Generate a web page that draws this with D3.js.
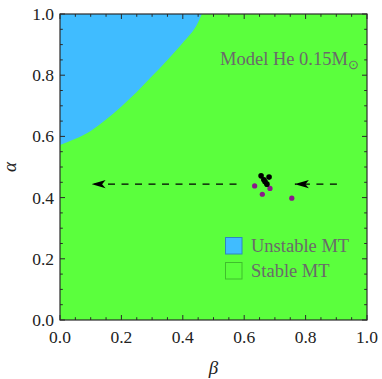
<!DOCTYPE html>
<html>
<head>
<meta charset="utf-8">
<script src="https://cdn.jsdelivr.net/npm/d3@7"></script>
<style>
  body { margin: 0; background: #fff; }
</style>
</head>
<body>
<div id="vis"></div>
<script>
var margin = { top: 14, right: 15, bottom: 59, left: 60 },
    width = 382 - margin.left - margin.right,
    height = 379 - margin.top - margin.bottom;

const serif = "'Liberation Serif', 'Times New Roman', Times, serif";

// boundary between unstable (upper left) and stable mass transfer
const boundaryBeta  = [0, 0.05, 0.1, 0.15, 0.2, 0.25, 0.3, 0.35, 0.4, 0.45, 0.462];
const boundaryAlpha = [0.572, 0.592, 0.618, 0.655, 0.698, 0.745, 0.797, 0.85, 0.906, 0.973, 1.0];

// simulated systems
const blackBeta  = [0.655, 0.664, 0.674, 0.681, 0.668];
const blackAlpha = [0.471, 0.458, 0.444, 0.467, 0.452];
const purpleBeta  = [0.634, 0.684, 0.659, 0.755];
const purpleAlpha = [0.438, 0.430, 0.411, 0.398];

// dashed arrows [start beta, end beta, alpha]
const arrowFrom  = [0.575, 0.902];
const arrowTo    = [0.103, 0.765];
const arrowAlpha = [0.444, 0.444];

const majorTicks = [0, 0.2, 0.4, 0.6, 0.8, 1.0];
const legendLabels = ["Unstable MT", "Stable MT"];

const blue = "#40bcff", green = "#5bff3d";

const x = d3.scaleLinear().domain([0, 1]).range([0, width]);
const y = d3.scaleLinear().domain([0, 1]).range([height, 0]);

const svg = d3.select("#vis")
    .append("svg")
    .attr("width", width + margin.left + margin.right)
    .attr("height", height + margin.top + margin.bottom)
    .attr("font-family", serif)
    .append("g")
    .attr("transform", `translate(${margin.left}, ${margin.top})`);

// stable background
svg.append("rect")
    .attr("width", width)
    .attr("height", height)
    .attr("fill", green);

// unstable region
const boundary = boundaryBeta.map((b, i) => [b, boundaryAlpha[i]]);
svg.append("path")
    .datum(boundary)
    .attr("fill", blue)
    .attr("d", d3.area()
        .x(d => x(d[0]))
        .y0(y(1))
        .y1(d => y(d[1]))
        .curve(d3.curveMonotoneX));

// arrowhead marker
svg.append("defs").append("marker")
    .attr("id", "head")
    .attr("markerUnits", "userSpaceOnUse")
    .attr("viewBox", "0 -5 14 10")
    .attr("refX", 14).attr("refY", 0)
    .attr("markerWidth", 14).attr("markerHeight", 10)
    .attr("orient", "auto")
    .append("path")
    .attr("d", "M0,-4.2L14,0L0,4.2L3.5,0Z")
    .attr("fill", "#000");

arrowFrom.forEach((b, i) => {
    svg.append("line")
        .attr("x1", x(b)).attr("y1", y(arrowAlpha[i]))
        .attr("x2", x(arrowTo[i])).attr("y2", y(arrowAlpha[i]))
        .attr("stroke", "#000")
        .attr("stroke-width", 1.3)
        .attr("stroke-dasharray", "7,6.5")
        .attr("marker-end", "url(#head)");
});

// points
svg.selectAll("circle.purple")
    .data(purpleBeta)
    .join("circle")
    .attr("class", "purple")
    .attr("cx", d => x(d))
    .attr("cy", (d, i) => y(purpleAlpha[i]))
    .attr("r", 2.6)
    .attr("fill", "#8a1a8a");
svg.selectAll("circle.black")
    .data(blackBeta)
    .join("circle")
    .attr("class", "black")
    .attr("cx", d => x(d))
    .attr("cy", (d, i) => y(blackAlpha[i]))
    .attr("r", 2.8)
    .attr("fill", "#000");

// frame and ticks
const minorTicks = d3.range(0, 1.0001, 0.05);
const frame = svg.append("g");
frame.append("rect")
    .attr("width", width).attr("height", height)
    .attr("fill", "none")
    .attr("stroke", "#2a2a2a")
    .attr("stroke-width", 1.2);
minorTicks.forEach(t => {
    const major = majorTicks.some(m => Math.abs(m - t) < 1e-6);
    const len = major ? 5 : 2.8;
    const segs = [
        [x(t), height, x(t), height - len],
        [x(t), 0, x(t), len],
        [0, y(t), len, y(t)],
        [width, y(t), width - len, y(t)]
    ];
    segs.forEach(s => frame.append("line")
        .attr("x1", s[0]).attr("y1", s[1]).attr("x2", s[2]).attr("y2", s[3])
        .attr("stroke", "#2a2a2a").attr("stroke-width", 1));
});

// tick labels
svg.selectAll("text.xt")
    .data(majorTicks)
    .join("text")
    .attr("class", "xt")
    .attr("x", d => x(d))
    .attr("y", height + 23)
    .attr("text-anchor", "middle")
    .attr("font-family", serif)
    .style("font-size", "17.5px")
    .attr("fill", "#222")
    .text(d => d.toFixed(1));
svg.selectAll("text.yt")
    .data(majorTicks)
    .join("text")
    .attr("class", "yt")
    .attr("x", -6)
    .attr("y", d => y(d) + 6)
    .attr("text-anchor", "end")
    .attr("font-family", serif)
    .style("font-size", "17.5px")
    .attr("fill", "#222")
    .text(d => d.toFixed(1));

// axis titles
svg.append("text")
    .attr("x", width / 2)
    .attr("y", height + 54)
    .attr("text-anchor", "middle")
    .attr("font-family", serif)
    .style("font-size", "19px")
    .style("font-style", "italic")
    .attr("fill", "#222")
    .text("β");
svg.append("text")
    .attr("transform", `translate(${-44}, ${height / 2}) rotate(-90)`)
    .attr("text-anchor", "middle")
    .attr("font-family", serif)
    .style("font-size", "19px")
    .style("font-style", "italic")
    .attr("fill", "#222")
    .text("α");

// annotation
const note = svg.append("text")
    .attr("x", 160)
    .attr("y", 51)
    .attr("font-family", serif)
    .style("font-size", "18.5px")
    .attr("fill", "#6a6a6a");
note.append("tspan").text("Model He 0.15M");
note.append("tspan").attr("dy", 4).style("font-size", "13px").text("⊙");

// legend
const legend = svg.append("g").attr("transform", `translate(${225 - margin.left}, ${237 - margin.top})`);
legendLabels.forEach((lab, i) => {
    const g = legend.append("g").attr("transform", `translate(0, ${i * 25})`);
    g.append("rect")
        .attr("x", 0.5).attr("y", 0.5)
        .attr("width", 16.5).attr("height", 16.5)
        .attr("fill", i === 0 ? blue : green)
        .attr("stroke", i === 0 ? "#2f86c0" : "#3fbf2c")
        .attr("stroke-width", 1);
    g.append("text")
        .attr("x", 26)
        .attr("y", 15)
        .attr("font-family", serif)
        .style("font-size", "18.5px")
        .attr("fill", "#6a6a6a")
        .text(lab);
});
</script>
</body>
</html>
